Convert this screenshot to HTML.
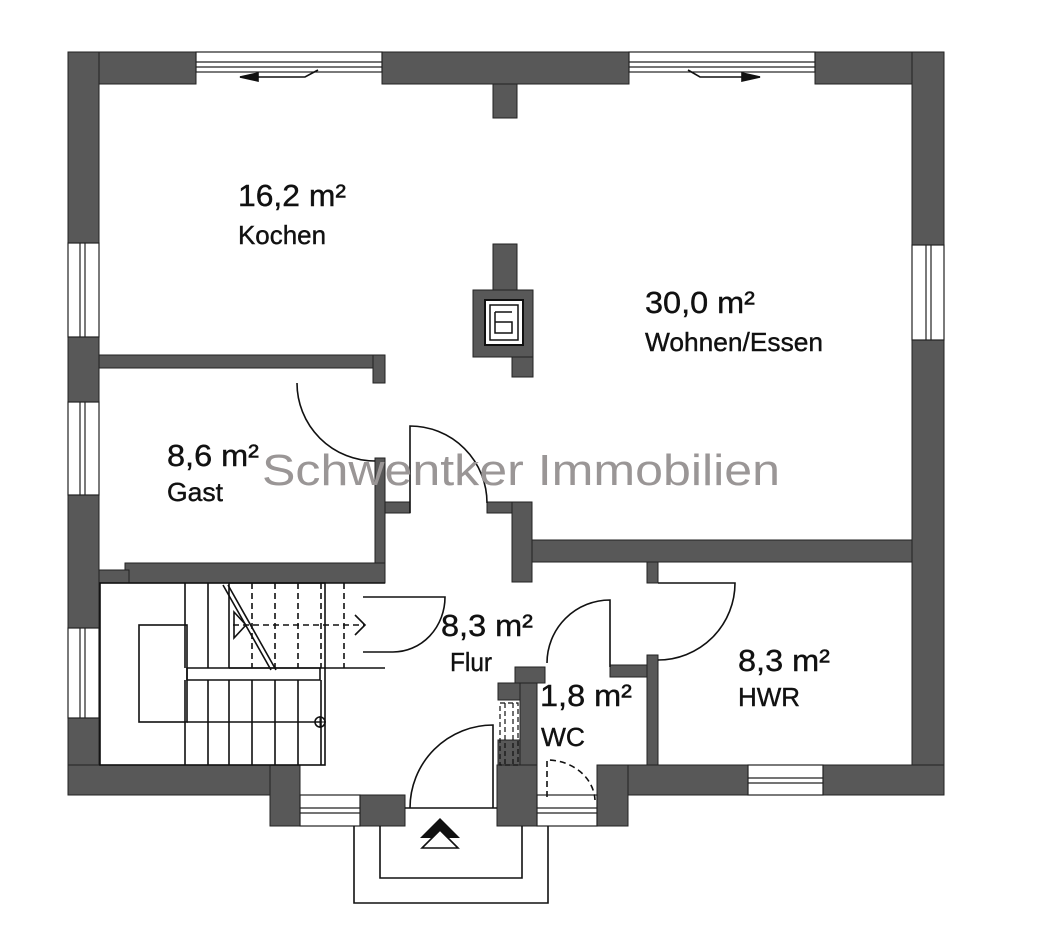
<!DOCTYPE html>
<html><head><meta charset="utf-8"><style>
html,body{margin:0;padding:0;background:#fff;}
svg{display:block;}
text{font-family:"Liberation Sans",sans-serif;fill:#111;}
</style></head><body>
<svg width="1044" height="940" viewBox="0 0 1044 940" xmlns="http://www.w3.org/2000/svg">
<rect width="1044" height="940" fill="#fff"/>
<g fill="#585858" stroke="#222" stroke-width="1">
<rect x="68" y="52" width="128" height="32"/>
<rect x="382" y="52" width="247" height="32"/>
<rect x="815" y="52" width="129" height="32"/>
<rect x="493" y="84" width="24" height="34"/>
<rect x="68" y="52" width="31" height="191"/>
<rect x="68" y="337" width="31" height="65"/>
<rect x="68" y="495" width="31" height="133"/>
<rect x="68" y="718" width="31" height="77"/>
<rect x="912" y="52" width="32" height="193"/>
<rect x="912" y="340" width="32" height="455"/>
<rect x="68" y="765" width="232" height="30"/>
<rect x="270" y="765" width="30" height="61"/>
<rect x="360" y="795" width="45" height="31"/>
<rect x="497" y="765" width="40" height="61"/>
<rect x="597" y="765" width="31" height="61"/>
<rect x="628" y="765" width="120" height="30"/>
<rect x="823" y="765" width="121" height="30"/>
<rect x="99" y="355" width="286" height="13"/>
<rect x="373" y="355" width="12" height="28"/>
<rect x="375" y="458" width="10" height="125"/>
<rect x="385" y="502" width="25" height="11"/>
<rect x="125" y="563" width="260" height="20"/>
<rect x="99" y="570" width="30" height="13"/>
<rect x="487" y="502" width="26" height="11"/>
<rect x="512" y="502" width="20" height="80"/>
<rect x="532" y="540" width="380" height="22"/>
<rect x="647" y="562" width="11" height="21"/>
<rect x="647" y="655" width="11" height="110"/>
<rect x="610" y="665" width="37" height="12"/>
<rect x="515" y="667" width="30" height="16"/>
<rect x="498" y="683" width="22" height="17"/>
<rect x="520" y="683" width="17" height="82"/>
<rect x="498" y="740" width="22" height="25"/>
<rect x="493" y="244" width="24" height="46"/>
<rect x="473" y="290" width="60" height="67"/>
<rect x="512" y="357" width="21" height="20"/>
</g>
<rect x="485" y="300" width="38" height="45" fill="#fff" stroke="#111" stroke-width="2"/>
<rect x="490" y="305" width="28" height="35" fill="none" stroke="#111" stroke-width="1.5"/>
<path d="M495 312 H512 M495 312 V333 H512 V322 H495" fill="none" stroke="#111" stroke-width="1.5"/>
<g fill="#fff" stroke="#222" stroke-width="1.2">
<rect x="196" y="52" width="186" height="20"/><line x1="196" y1="67" x2="382" y2="67"/><line x1="196" y1="62" x2="382" y2="62"/>
<rect x="629" y="52" width="186" height="20"/><line x1="629" y1="67" x2="815" y2="67"/><line x1="629" y1="62" x2="815" y2="62"/>
<rect x="68" y="243" width="31" height="94"/><line x1="80" y1="243" x2="80" y2="337"/><line x1="85" y1="243" x2="85" y2="337"/>
<rect x="68" y="402" width="31" height="93"/><line x1="80" y1="402" x2="80" y2="495"/><line x1="85" y1="402" x2="85" y2="495"/>
<rect x="68" y="628" width="31" height="90"/><line x1="80" y1="628" x2="80" y2="718"/><line x1="85" y1="628" x2="85" y2="718"/>
<rect x="912" y="245" width="32" height="95"/><line x1="926" y1="245" x2="926" y2="340"/><line x1="931" y1="245" x2="931" y2="340"/>
<rect x="748" y="765" width="75" height="30"/><line x1="748" y1="778" x2="823" y2="778"/><line x1="748" y1="783" x2="823" y2="783"/>
<rect x="300" y="795" width="60" height="31"/><line x1="300" y1="808" x2="360" y2="808"/><line x1="300" y1="813" x2="360" y2="813"/>
<rect x="537" y="795" width="60" height="31"/><line x1="537" y1="808" x2="597" y2="808"/><line x1="537" y1="813" x2="597" y2="813"/>
</g>
<g fill="none" stroke="#111" stroke-width="1.6">
<path d="M240 77 H305 L318 70"/><path d="M240 77 L258 73 L258 81 Z" fill="#111"/>
<path d="M688 70 L700 77 H760"/><path d="M760 77 L742 73 L742 81 Z" fill="#111"/>
<path d="M297 383 A78 78 0 0 0 375 461"/>
<path d="M410 513 V426 A77 77 0 0 1 487 503"/>
<path d="M658 583 H735 A77 77 0 0 1 658 660"/>
<path d="M610 667 V600 A63 63 0 0 0 547 663"/>
<path d="M493 808 V725 A83 83 0 0 0 410 808"/>
<line x1="405" y1="808" x2="497" y2="808"/>
<path d="M547 797 V760 A48 42 0 0 1 595 800" stroke-dasharray="6 4"/>
<path d="M500 703 H518 V765 H500 Z M505 703 V765 M513 703 V765" stroke-width="1.2" stroke-dasharray="5 3"/>
<rect x="100" y="583" width="225" height="182"/>
<rect x="139" y="625" width="48" height="97"/>
<path d="M187 722 H320"/>
<path d="M187 668 H320 V680 H187 Z"/>
<path d="M185 583 V668 M208 583 V668 M229 583 V668 M185 680 V765 M208 680 V765 M229 680 V765 M252 680 V765 M275 680 V765 M298 680 V765 M321 680 V765"/>
<path d="M252 583 V668 M275 583 V668 M298 583 V668 M321 583 V668 M344 583 V668 M233 625 H364" stroke-dasharray="6 4"/>
<path d="M229 583 H385 M229 668 H385" />
<path d="M223 585 L271 670 M228 585 L276 670"/>
<path d="M234 612 L234 638 L246 625 Z"/>
<path d="M355 615 L365 625 L355 635"/>
<path d="M363 597 H445 A52 55 0 0 1 393 652 H363"/>
<circle cx="320" cy="722" r="5"/><path d="M314 722 H326 M320 716 V728" stroke-width="1"/>
<path d="M354 826 V903 H548 V826"/>
<path d="M380 826 V878 H522 V826"/>
</g>
<path d="M440 818 L460 838 H420 Z" fill="#111"/>
<path d="M440 830 L458 848 H422 Z" fill="#fff" stroke="#111" stroke-width="1.6"/>
<g style="stroke:#111;stroke-width:0.4">
<text x="238" y="206" font-size="31" textLength="108" lengthAdjust="spacingAndGlyphs">16,2 m²</text>
<text x="238" y="244" font-size="26" textLength="88" lengthAdjust="spacingAndGlyphs">Kochen</text>
<text x="645" y="313" font-size="31" textLength="110" lengthAdjust="spacingAndGlyphs">30,0 m²</text>
<text x="645" y="351" font-size="26" textLength="178" lengthAdjust="spacingAndGlyphs">Wohnen/Essen</text>
<text x="167" y="466" font-size="31" textLength="92" lengthAdjust="spacingAndGlyphs">8,6 m²</text>
<text x="167" y="501" font-size="26" textLength="56" lengthAdjust="spacingAndGlyphs">Gast</text>
<text x="441" y="636" font-size="31" textLength="92" lengthAdjust="spacingAndGlyphs">8,3 m²</text>
<text x="450" y="671" font-size="26" textLength="42" lengthAdjust="spacingAndGlyphs">Flur</text>
<text x="540" y="706" font-size="31" textLength="92" lengthAdjust="spacingAndGlyphs">1,8 m²</text>
<text x="541" y="746" font-size="26" textLength="44" lengthAdjust="spacingAndGlyphs">WC</text>
<text x="738" y="671" font-size="31" textLength="92" lengthAdjust="spacingAndGlyphs">8,3 m²</text>
<text x="738" y="706" font-size="26" textLength="62" lengthAdjust="spacingAndGlyphs">HWR</text>
</g>
<text x="262" y="485" font-size="44" style="fill:#9a9696" textLength="518" lengthAdjust="spacingAndGlyphs">Schwentker Immobilien</text>
</svg>
</body></html>
